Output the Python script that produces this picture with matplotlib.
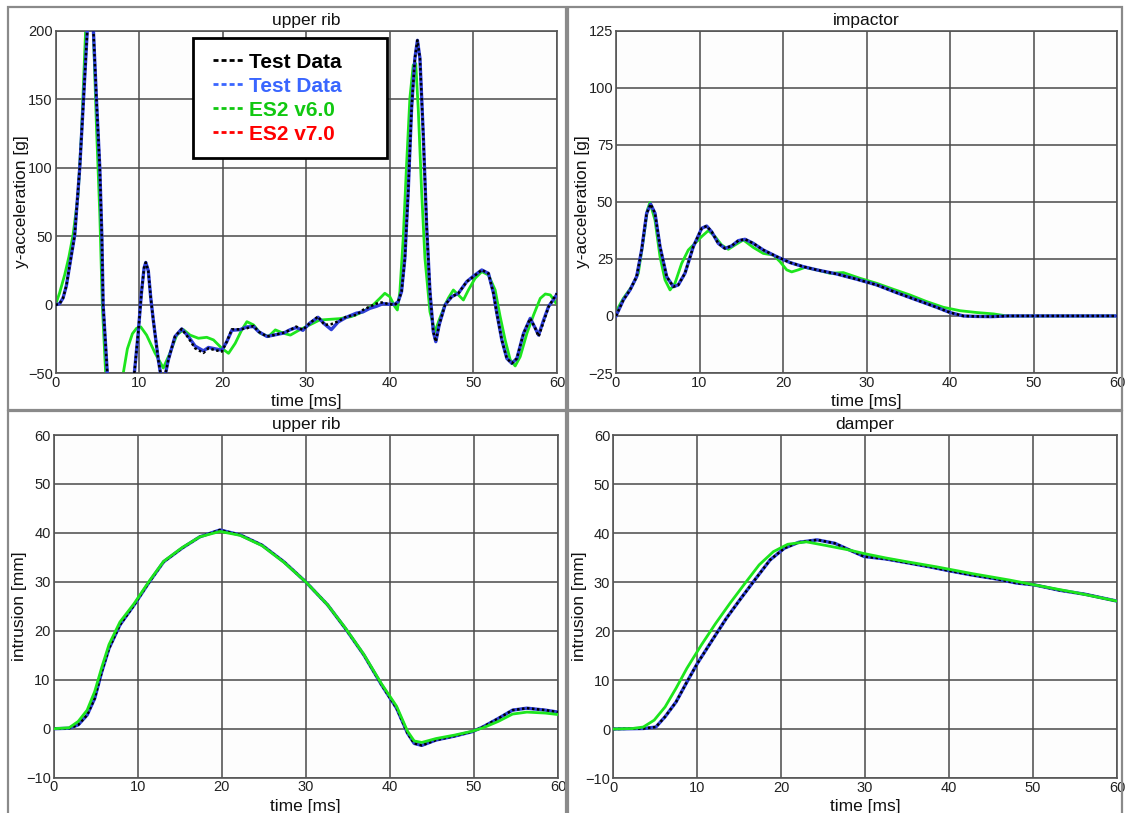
import matplotlib
matplotlib.use("Agg")
import matplotlib.pyplot as plt
from matplotlib.lines import Line2D
from matplotlib.patches import Rectangle

plt.rcParams['font.family'] = ['Liberation Sans', 'DejaVu Sans']

# ---------------- upper rib, y-acceleration [g] ----------------
rib_acc_t = [0, 0.5, 0.9, 1.3, 1.7, 2.3, 2.9, 3.3, 3.8, 4.1, 4.3, 4.5, 4.9, 5.3, 5.55,
             5.7, 6.2, 6.8, 7.5, 8.3, 9.0, 9.43, 9.9, 10.3, 10.6, 10.8, 11.1, 11.4,
             11.7, 12.3, 12.7, 13.1, 13.5, 14.3, 15.1, 15.9, 16.7, 17.7, 18.3, 19.1,
             19.9, 20.5, 21.1, 22.1, 22.9, 23.7, 24.3, 25.3, 26.1, 27.3, 28.1, 28.8,
             29.6, 30.4, 31.4, 32.2, 33.0, 33.8, 34.8, 36.0, 36.8, 37.6, 38.4, 39.2,
             39.6, 40.6, 41.0, 41.4, 41.8, 42.2, 42.6, 43.0, 43.3, 43.6, 44.0, 44.4,
             44.8, 45.2, 45.5, 45.9, 46.6, 47.4, 48.2, 49.2, 50.0, 51.0, 51.8, 52.4,
             52.8, 53.4, 54.0, 54.6, 55.2, 56.0, 56.8, 57.4, 57.8, 58.4, 59.0, 59.6, 60.0]
rib_acc_test_black = [0, 1, 5, 14, 29, 51, 100, 144, 200, 240, 250, 205, 150, 100, 49,
                      0, -50, -100, -120, -110, -80, -50, -20, 10, 27, 31, 25, 5,
                      -11, -40, -55, -52, -40, -23, -17.5, -24, -31.6, -35, -31.6, -33,
                      -34, -26.7, -17.8, -17.8, -17, -15.3, -19.5, -23, -22, -20.2, -18.2, -15.8,
                      -18.2, -13.4, -8.5, -14.6, -14, -12, -8.5, -7.3, -3.6, -1.2, 1, 2,
                      1, 0, 2.4, 9.7, 34, 83, 143, 180, 193, 180, 124, 58,
                      9.7, -19.5, -26.8, -14.6, 0, 6, 8.5, 17, 20.6, 25.5, 23, 8.5,
                      -6, -25.6, -39, -42.6, -39, -20.7, -9.8, -17, -23, -12.2, -1.2, 4.8, 8.5]
rib_acc_test_blue = [0, 1, 5, 14, 29, 51, 100, 144, 200, 240, 250, 205, 150, 100, 49,
                     0, -50, -100, -120, -110, -80, -50, -20, 10, 27, 31, 25, 5,
                     -11, -40, -55, -52, -40, -23, -17.5, -23, -30, -33.5, -31, -32,
                     -33, -26.7, -18.5, -18, -16, -15.8, -19.5, -23, -22, -20.5, -18, -16.5,
                     -18.5, -13.4, -9, -14, -18, -12.5, -9, -6, -5, -2.5, -1, 1,
                     0.5, 0.5, 2.4, 9.7, 34, 83, 143, 180, 193, 180, 124, 58,
                     9.7, -19.5, -26.8, -14.6, 0, 6, 8.5, 17, 21, 25.5, 23, 8.5,
                     -6, -25.6, -39, -42.6, -39, -20.7, -9.8, -17, -22, -11, -1, 4, 8]

rib_acc_t_v6 = [0, 0.5, 1.1, 1.6, 2.1, 2.7, 3.1, 3.6, 4.1, 4.5, 4.9, 5.3, 5.6, 6.0, 6.6,
                7.2, 7.7, 8.1, 8.6, 9.2, 9.7, 10.2, 10.9, 11.9, 12.9, 13.7, 14.5, 15.3,
                16.1, 17.1, 18.1, 18.9, 19.9, 20.7, 21.5, 22.3, 22.9, 23.7, 24.5, 25.5,
                26.3, 27.3, 28.1, 29.2, 30.4, 31.6, 32.8, 34.0, 35.4, 36.8, 38.0, 38.8,
                39.4, 40.0, 40.6, 40.9, 41.2, 41.6, 42.0, 42.4, 42.8, 43.1, 43.4, 43.8,
                44.2, 44.8, 45.4, 45.9, 46.6, 47.0, 47.6, 48.2, 48.8, 49.4, 50.2, 51.0,
                51.8, 52.6, 53.2, 53.8, 54.4, 55.0, 55.6, 56.4, 57.2, 58.0, 58.6, 59.2, 59.9, 60.0]
rib_acc_v6 = [0, 9, 22, 35, 51, 80, 124, 200, 240, 205, 130, 66, 0, -50, -100,
              -110, -85, -50, -32, -21, -17, -16, -22, -35, -46, -35, -22, -18,
              -22, -24.3, -23.6, -25.5, -31.6, -35.3, -28, -18, -12.2, -14.6, -20.7, -23,
              -18.2, -20.7, -22, -18.2, -14.6, -11, -10.5, -10, -8.5, -5, 0, 4.8,
              8.5, 6, -1.2, -3.7, 9.7, 48.6, 102, 151, 175, 176, 143, 83,
              34, -5, -19.5, -11, 0, 5, 10.9, 7.3, 3.6, 10.9, 19.4, 24.3,
              21.8, 10.9, -8.5, -25.6, -40, -44.5, -37.7, -20.7, -7.3, 4.8, 8, 7.3, 1.2, 1]

# ---------------- impactor, y-acceleration [g] ----------------
imp_t = [0, 0.88, 1.68, 2.47, 3.07, 3.67, 4.15, 4.67, 5.27, 6.07, 6.87, 7.46, 8.26, 9.26,
         10.26, 10.86, 11.46, 12.25, 13.05, 13.85, 14.65, 15.45, 16.45, 17.64, 19.24,
         20.84, 22.43, 24.03, 26.42, 28.82, 31.22, 33.61, 36.0, 38.4, 40.0, 41.6, 43.0,
         45.0, 47.0, 60.0]
imp_test = [0, 7, 11.4, 17.2, 28.9, 45, 49, 45, 30.4, 17.2, 12.8, 13.6, 18.7, 30.4,
            38.4, 39.4, 36.9, 31.8, 29.6, 30.7, 33, 33.6, 31.8, 28.9, 26,
            23.4, 21.6, 20.2, 18.4, 16.1, 13.6, 10.2, 7, 3.8, 1.5, 0, -0.2,
            -0.3, 0, 0]
imp_t_v6 = [0, 0.88, 1.87, 2.67, 3.27, 3.75, 4.07, 4.67, 5.27, 5.87, 6.47, 7.06, 7.86,
            8.66, 9.46, 10.26, 11.06, 11.86, 12.65, 13.45, 14.25, 15.25, 16.45, 17.64,
            18.84, 19.64, 20.44, 21.04, 21.83, 22.63, 24.03, 25.63, 27.22, 29.22, 31.22,
            33.21, 35.2, 37.2, 39.2, 41.2, 43.2, 45.2, 46.8, 60.0]
imp_v6 = [1.9, 7.7, 12.8, 18.7, 33.3, 46.4, 49.7, 42, 26, 15.8, 11.4, 14.3, 23,
          28.9, 31.8, 34.8, 37.4, 34.8, 31.1, 29.2, 31.1, 33.3, 30, 27.4,
          26.7, 23.8, 20.2, 19.3, 20.2, 21.3, 20.2, 18.7, 19, 16.5, 14.3,
          11.7, 9.2, 6.3, 3.8, 2.3, 1.5, 0.9, 0, 0]

# ---------------- upper rib, intrusion [mm] ----------------
rib_int_t = [0, 1.86, 2.94, 4.0, 4.9, 5.75, 6.6, 7.9, 9.6, 11.4, 13.1, 15.3, 17.4, 19.8,
             22.2, 24.8, 27.4, 30.0, 32.6, 34.7, 36.9, 39.0, 40.8, 42.1, 42.9, 43.8,
             45.5, 47.7, 49.8, 51.1, 52.9, 54.6, 56.3, 58.5, 60.0]
rib_int_test = [0, 0.1, 0.8, 2.8, 6.2, 11.7, 16.4, 21.2, 25.3, 30, 34.1, 36.9, 39.2, 40.6,
                39.6, 37.5, 34.1, 30, 25.3, 20.5, 15.1, 9, 4.2, -0.9, -3, -3.4,
                -2.3, -1.5, -0.6, 0.4, 2.1, 3.8, 4.2, 3.8, 3.4]
rib_int_v6 = [0, 0.2, 1.5, 3.8, 7.6, 12.6, 17.2, 21.8, 25.6, 30.2, 34.2, 37.0, 39.2, 40.3,
              39.5, 37.4, 34.0, 30, 25.3, 20.6, 15.2, 9.2, 4.6, -0.5, -2.5, -2.8,
              -2.0, -1.3, -0.5, 0.2, 1.5, 3.0, 3.4, 3.2, 2.9]

# ---------------- damper, intrusion [mm] ----------------
damp_t = [0, 3.6, 5.1, 6.2, 7.5, 8.8, 10.05, 11.8, 13.5, 15.2, 17.0, 18.7, 20.4, 22.1,
          24.3, 26.4, 28.2, 29.9, 32.5, 35.1, 37.7, 40.3, 42.8, 45.4, 48.0, 50.2,
          53.2, 56.2, 60.0]
damp_test = [0, 0.1, 0.4, 2.5, 5.5, 9.6, 13.4, 18.1, 22.6, 26.6, 30.7, 34.5, 36.9, 38.1,
             38.6, 37.9, 36.5, 35.2, 34.7, 33.9, 33.1, 32.2, 31.4, 30.7, 29.8, 29.4,
             28.3, 27.5, 26.1]
damp_t_v6 = [0, 2.3, 3.6, 4.9, 6.2, 7.5, 8.8, 10.5, 12.2, 13.9, 15.7, 17.4, 19.1, 20.8,
             23.0, 25.2, 28.2, 29.9, 32.5, 35.1, 38.5, 42.8, 47.2, 50.2, 54.9, 60.0]
damp_v6 = [0, 0.1, 0.4, 1.8, 4.5, 8.3, 12.4, 17.1, 21.5, 25.6, 29.7, 33.5, 36.2, 37.7,
           38.2, 37.5, 36.5, 35.8, 34.9, 34.1, 33.1, 31.7, 30.4, 29.4, 27.9, 26.1]

legend_labels = ["Test Data", "Test Data", "ES2 v6.0", "ES2 v7.0"]
legend_colors = ["#000000", "#3a66ff", "#11c811", "#ff0000"]

COL_BLACK = "#000000"
COL_BLUE = "#2f3fd8"
COL_GREEN = "#1de51d"

W, H = 1128, 813
fig = plt.figure(figsize=(W / 100, H / 100), dpi=100)
fig.patch.set_facecolor("white")


def add_axes_px(left, top, right, bottom):
    return fig.add_axes([left / W, 1 - bottom / H, (right - left) / W, (bottom - top) / H])


# panel frames
for (x0, y0, x1, y1) in [(7.5, 7.5, 566, 410), (567.5, 7.5, 1121.5, 410),
                         (7.5, 411.5, 566, 830), (567.5, 411.5, 1121.5, 830)]:
    fig.patches.append(Rectangle((x0 / W, 1 - y1 / H), (x1 - x0) / W, (y1 - y0) / H,
                                 transform=fig.transFigure, fill=False,
                                 edgecolor="#8a8a8a", linewidth=1.6))


def style(ax, ylo, yhi, ystep, title, ylabel):
    ax.set_facecolor("#fdfdfd")
    ax.set_xlim(0, 60)
    ax.set_ylim(ylo, yhi)
    ax.set_xticks(range(0, 61, 10))
    ax.set_yticks(range(ylo, yhi + 1, ystep))
    ax.grid(True, color="#4a4a4a", linewidth=1.1)
    ax.set_axisbelow(True)
    for s in ax.spines.values():
        s.set_color("#555555")
        s.set_linewidth(1.2)
    ax.tick_params(length=0, labelsize=10.5, colors="#222222", pad=2)
    ax.set_title(title, fontsize=12.5, pad=4, color="#111111")
    ax.set_xlabel("time [ms]", fontsize=12.5, labelpad=3, color="#111111")
    ax.set_ylabel(ylabel, fontsize=12.5, color="#111111")
    ax.yaxis.set_label_coords(-0.052, 0.5)


def draw_test(ax, t, yb, ybl):
    ax.plot(t, ybl, color=COL_BLUE, lw=2.4, solid_joinstyle="round", zorder=3)
    ax.plot(t, yb, color=COL_BLACK, lw=1.8, ls=(0, (1, 1)), zorder=4)


ax1 = add_axes_px(55.5, 30.7, 557, 373.5)
style(ax1, -50, 200, 50, "upper rib", "y-acceleration [g]")
ax1.plot(rib_acc_t_v6, rib_acc_v6, color=COL_GREEN, lw=2.0, solid_joinstyle="round", zorder=2)
draw_test(ax1, rib_acc_t, rib_acc_test_black, rib_acc_test_blue)

# legend box with its own frame
to_ax = lambda px, py: ((px - 55.5) / 501.5, 1 - (py - 30.7) / 342.8)
bx0, by0 = to_ax(193, 158)
bx1, by1 = to_ax(387, 38)
ax1.add_patch(Rectangle((bx0, by0), bx1 - bx0, by1 - by0, transform=ax1.transAxes,
                        facecolor="white", edgecolor="black", linewidth=2, zorder=9))
handles = [Line2D([], [], color=c, lw=2, ls=(0, (1.8, 1.1))) for c in legend_colors]
leg = ax1.legend(handles, legend_labels, loc="upper left",
                 bbox_to_anchor=to_ax(213, 52.5), borderaxespad=0, borderpad=0,
                 frameon=False, labelcolor=legend_colors,
                 prop={"weight": "bold", "size": 15}, handlelength=1.44,
                 handletextpad=0.28, labelspacing=0.24)
leg.set_zorder(10)

ax2 = add_axes_px(616, 30.7, 1117, 373)
style(ax2, -25, 125, 25, "impactor", "y-acceleration [g]")
ax2.plot(imp_t_v6, imp_v6, color=COL_GREEN, lw=2.0, solid_joinstyle="round", zorder=2)
draw_test(ax2, imp_t, imp_test, imp_test)

ax3 = add_axes_px(53.5, 435, 558, 777.7)
style(ax3, -10, 60, 10, "upper rib", "intrusion [mm]")
draw_test(ax3, rib_int_t, rib_int_test, rib_int_test)
ax3.plot(rib_int_t, rib_int_v6, color=COL_GREEN, lw=2.0, solid_joinstyle="round", zorder=5)

ax4 = add_axes_px(613, 435, 1117, 778)
style(ax4, -10, 60, 10, "damper", "intrusion [mm]")
draw_test(ax4, damp_t, damp_test, damp_test)
ax4.plot(damp_t_v6, damp_v6, color=COL_GREEN, lw=2.0, solid_joinstyle="round", zorder=5)

fig.savefig("out.png", dpi=100)
